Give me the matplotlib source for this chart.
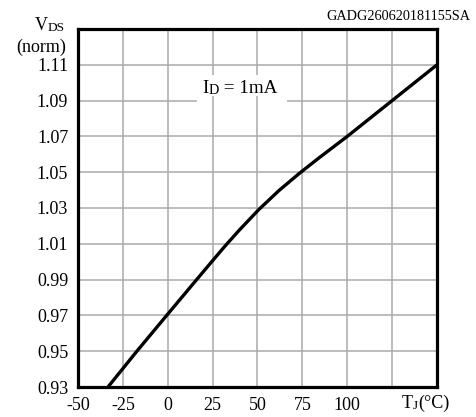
import matplotlib
matplotlib.use("Agg")
import matplotlib.pyplot as plt

# VDS(norm) vs junction temperature
temp_c = [-33.3, -25, -17.2, -0.6, 8, 16.1, 25, 31.7, 40, 50.6, 62, 73.5, 84, 100, 125, 150]
vds_norm = [0.930, 0.9403, 0.950, 0.970, 0.9803, 0.990, 1.0006, 1.0085, 1.0178, 1.029, 1.0398,
            1.0495, 1.0578, 1.070, 1.090, 1.110]

x_ticks = [-50, -25, 0, 25, 50, 75, 100, 125, 150]
x_labels = ['-50', '-25', '0', '25', '50', '75', '100', '', '']
y_ticks = [0.93, 0.95, 0.97, 0.99, 1.01, 1.03, 1.05, 1.07, 1.09, 1.11, 1.13]
y_labels = ['0.93', '0.95', '0.97', '0.99', '1.01', '1.03', '1.05', '1.07', '1.09', '1.11', '']

FS = 13
GRID = '#aaaaaa'
plt.rcParams['font.family'] = ['Liberation Serif', 'DejaVu Serif']

fig = plt.figure(figsize=(4.77, 4.17), dpi=100)
ax = fig.add_axes([78 / 477, 1 - 387 / 417, (437 - 78) / 477, (387 - 29) / 417])

ax.set_xlim(-50, 150)
ax.set_ylim(0.93, 1.13)

# grid drawn by hand: the 1.09 line has a gap behind the condition label
ax.vlines(x_ticks[1:-1], 0.93, 1.13, color=GRID, lw=1.1, zorder=1)
for y in y_ticks[1:-1]:
    if abs(y - 1.09) < 1e-9:
        ax.hlines(y, -50, 16.1, color=GRID, lw=1.1, zorder=1)
        ax.hlines(y, 66.7, 150, color=GRID, lw=1.1, zorder=1)
    else:
        ax.hlines(y, -50, 150, color=GRID, lw=1.1, zorder=1)
ax.fill_between([16.1, 66.7], 1.0925, 1.1044, color='white', lw=0, zorder=1.5)

ax.plot(temp_c, vds_norm, color='black', lw=2.4, solid_capstyle='butt',
        solid_joinstyle='round', zorder=3)

ax.set_xticks(x_ticks)
ax.set_xticklabels(x_labels, fontsize=FS)
ax.set_yticks(y_ticks)
ax.set_yticklabels(y_labels, fontsize=FS)
ax.tick_params(length=0, pad=7)
ax.get_xticklabels()[0].set_x(-46)  # the "-50" label sits a bit right of the axis
for sp in ax.spines.values():
    sp.set_linewidth(2.3)
    sp.set_zorder(4)


# big letter followed by small-cap style letters on the same baseline
def two_part(x, y, big, small, coords, tail=None, size=FS):
    t1 = ax.text(x, y, big, transform=coords, fontsize=size, ha='left', va='baseline', zorder=5)
    t2 = ax.annotate(small, xy=(1, 0), xycoords=t1, fontsize=size * 0.74,
                     ha='left', va='bottom', zorder=5)
    if tail:
        ax.annotate(tail, xy=(1, 0), xycoords=t2, fontsize=size,
                    ha='left', va='bottom', zorder=5)


# y axis title
two_part(-0.12, 0.997, 'V', 'DS', ax.transAxes)
ax.text(-0.033, 0.95, '(norm)', transform=ax.transAxes, fontsize=FS, ha='right', va='center')

# x axis title in place of the last tick labels
two_part(0.902, -0.06, 'T', 'J', ax.transAxes, tail='(°C)')

# condition label
two_part(19.5, 1.094, 'I', 'D', ax.transData, tail=' = 1mA', size=13.8)

fig.text(470 / 477, 1 - 16 / 417, 'GADG260620181155SA', fontsize=10.3, ha='right', va='center')

fig.savefig('out.png', dpi=100)
